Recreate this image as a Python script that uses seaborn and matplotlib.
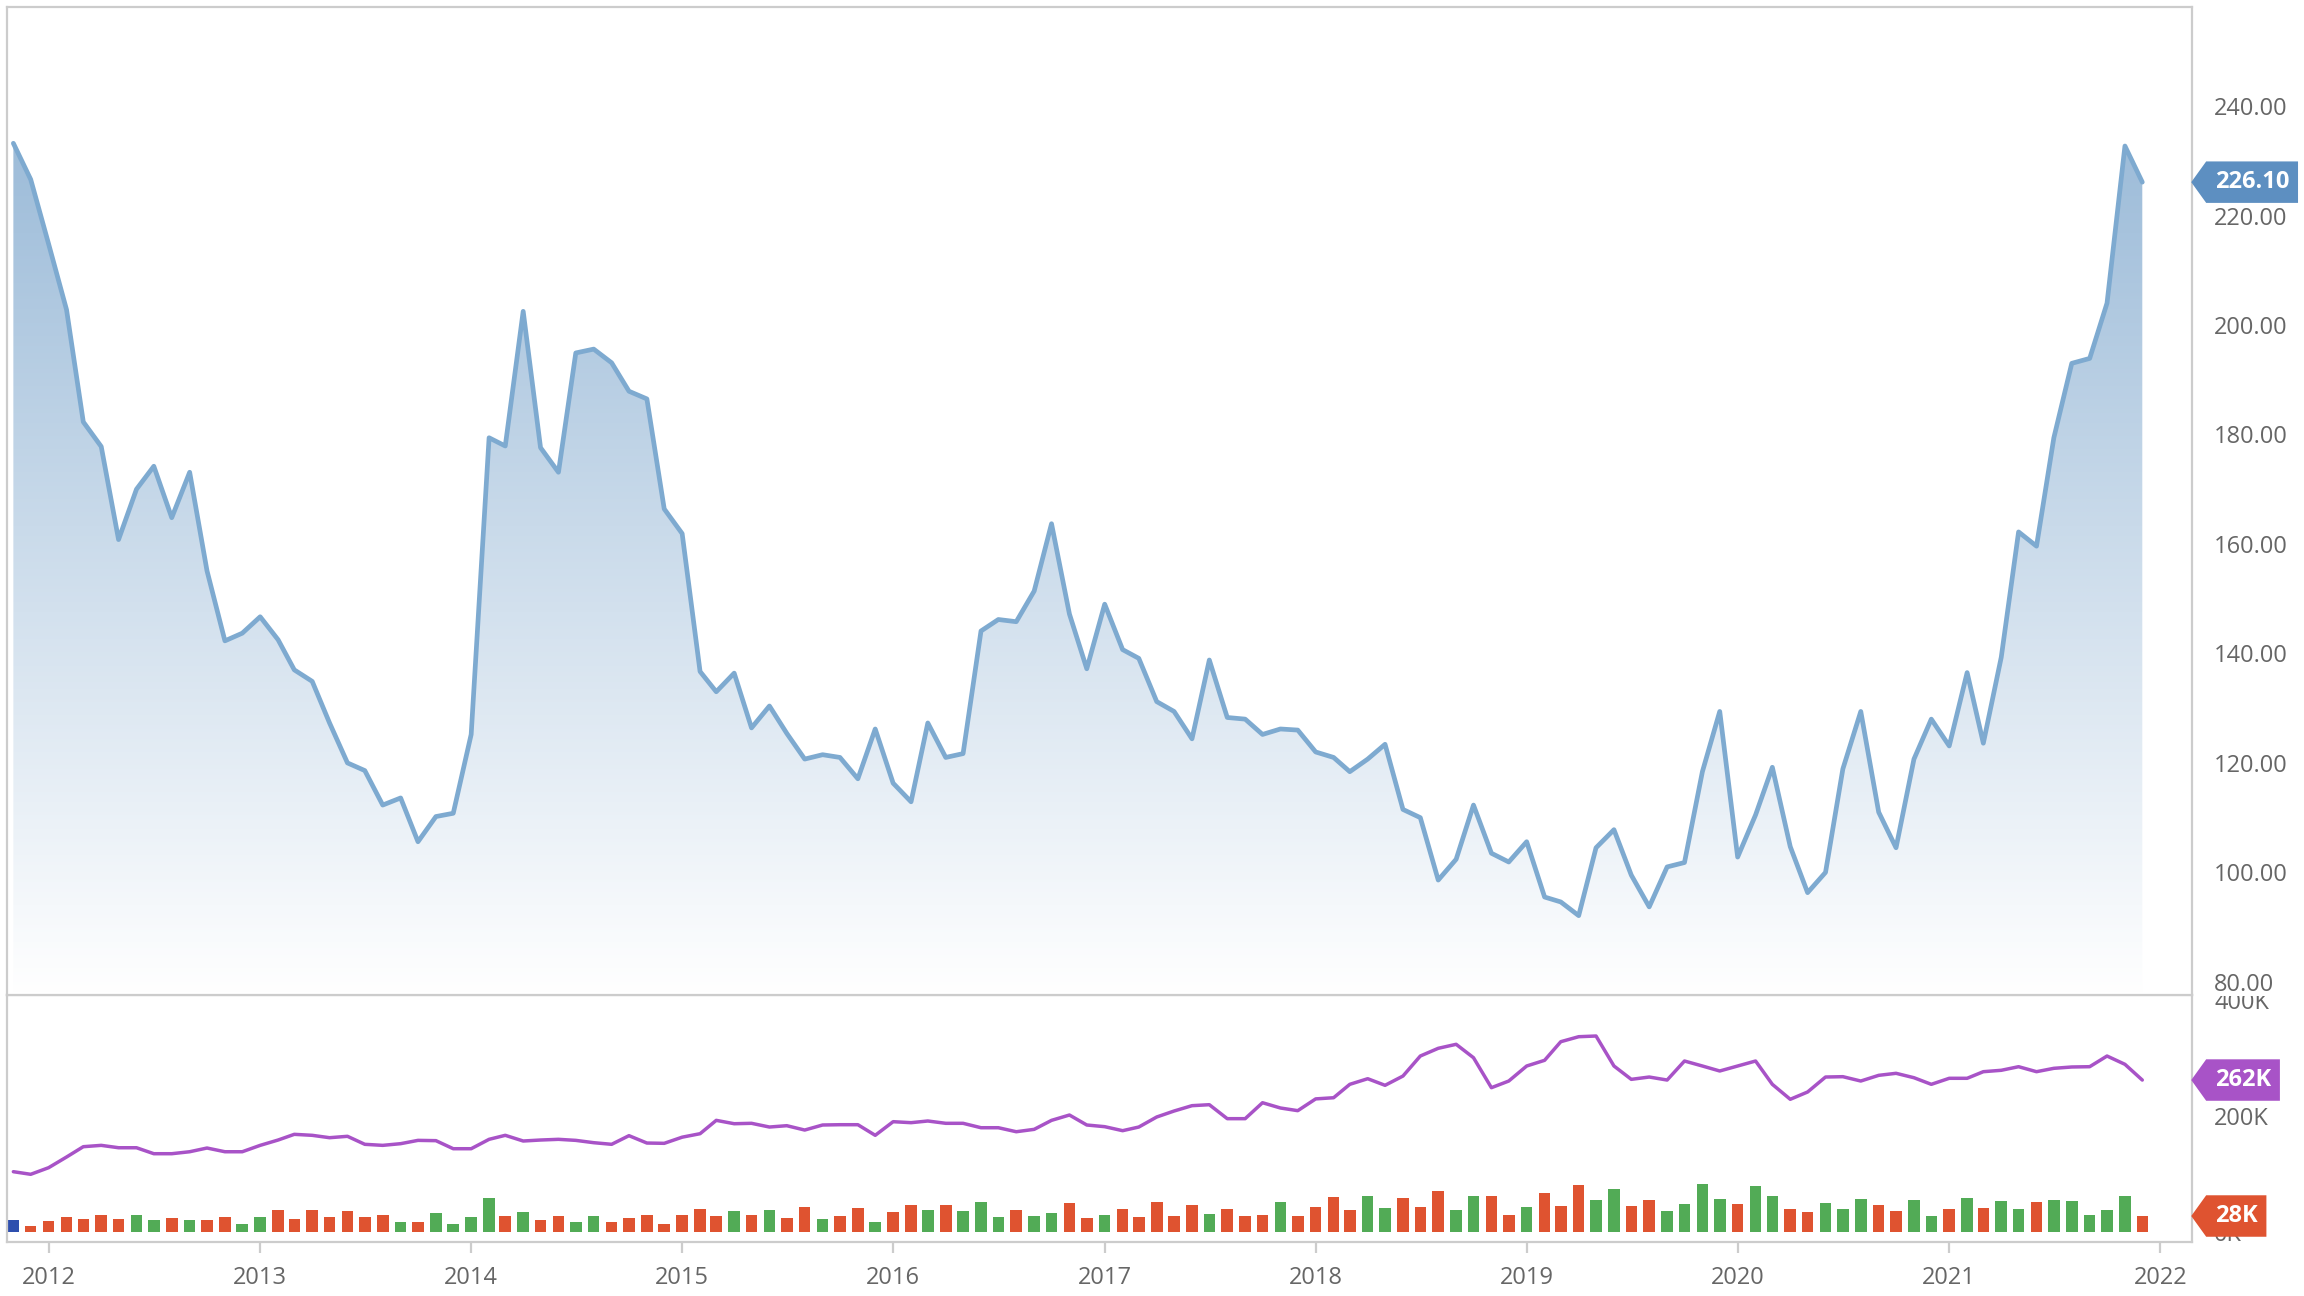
import numpy as np
import pandas as pd
import matplotlib
matplotlib.use("Agg")
import matplotlib.pyplot as plt
import matplotlib.dates as mdates
from matplotlib.path import Path
from matplotlib.patches import Rectangle
from matplotlib.colors import LinearSegmentedColormap
import seaborn as sns

# monthly data, Nov 2011 - Dec 2021
months = pd.date_range("2011-11-01", periods=122, freq="MS")

price = [
    233.2, 226.6, 214.8, 202.8, 182.3, 177.8, 160.8, 170.0, 174.2, 164.8,
    173.1, 155.1, 142.3, 143.7, 146.7, 142.5, 137.0, 134.9, 127.3, 120.0,
    118.6, 112.3, 113.6, 105.6, 110.2, 110.8, 125.2, 179.4, 177.9, 202.5,
    177.6, 173.1, 194.9, 195.6, 193.1, 187.9, 186.5, 166.4, 161.9, 136.7,
    133.0, 136.4, 126.4, 130.4, 125.4, 120.7, 121.5, 121.0, 117.1, 126.2,
    116.3, 112.9, 127.3, 121.0, 121.7, 144.1, 146.2, 145.8, 151.4, 163.7,
    147.2, 137.2, 149.0, 140.7, 139.1, 131.2, 129.4, 124.4, 138.8, 128.3,
    128.0, 125.2, 126.2, 126.0, 122.0, 121.0, 118.4, 120.7, 123.4, 111.5,
    110.0, 98.6, 102.4, 112.3, 103.5, 101.9, 105.6, 95.5, 94.6, 92.1,
    104.5, 107.8, 99.5, 93.7, 101.0, 101.8, 118.4, 129.4, 102.8, 110.5,
    119.2, 104.7, 96.3, 100.0, 118.9, 129.4, 111.0, 104.5, 120.7, 128.0,
    123.1, 136.5, 123.6, 139.3, 162.2, 159.6, 179.4, 193.0, 193.9, 204.0,
    232.7, 226.1,
]

# purple line, thousands
open_int = [
    104.0, 99.5, 110.9, 129.3, 147.1, 149.4, 145.3, 145.3, 135.0, 135.0,
    138.4, 144.8, 138.4, 138.4, 149.4, 158.6, 168.4, 166.7, 162.6, 165.0,
    151.2, 149.4, 152.3, 158.0, 157.5, 143.6, 143.6, 159.8, 166.7, 156.9,
    158.6, 159.8, 158.0, 154.0, 151.2, 166.1, 153.4, 152.9, 163.5, 169.5,
    192.5, 186.7, 187.4, 181.0, 183.3, 175.8, 184.5, 185.0, 185.0, 166.7,
    190.2, 188.5, 191.4, 187.4, 187.4, 179.8, 179.8, 172.9, 177.0, 192.5,
    201.7, 184.5, 181.6, 174.7, 181.0, 198.3, 208.6, 217.8, 219.5, 195.4,
    195.4, 222.9, 213.8, 209.2, 229.5, 231.5, 254.6, 264.3, 252.9, 268.9,
    303.4, 316.7, 323.6, 300.5, 248.8, 260.3, 286.2, 296.0, 328.1, 336.7,
    337.9, 286.2, 263.2, 267.2, 262.0, 294.8, 286.2, 277.6, 286.2, 294.8,
    254.6, 228.8, 241.4, 267.2, 267.8, 260.3, 270.1, 273.6, 266.0, 254.6,
    265.0, 265.0, 276.4, 278.8, 285.0, 276.4, 282.2, 284.5, 285.0, 303.4,
    289.1, 262.0,
]

# volume bars, thousands
volume = [
    20.7, 10.3, 18.4, 26.4, 23.0, 28.7, 21.8, 28.7, 21.3, 23.6,
    20.1, 21.3, 26.4, 13.2, 25.3, 37.9, 22.4, 38.5, 26.4, 35.6,
    25.3, 29.9, 16.7, 17.8, 33.3, 14.4, 25.9, 58.0, 27.0, 33.9,
    21.3, 27.0, 17.2, 27.6, 17.8, 24.1, 29.9, 14.4, 28.5, 40.2,
    27.0, 35.6, 28.7, 37.4, 23.6, 43.7, 22.4, 27.6, 41.4, 16.7,
    33.9, 47.1, 37.9, 46.0, 35.6, 52.3, 26.4, 37.4, 27.6, 32.2,
    50.0, 23.6, 29.9, 40.2, 25.3, 51.1, 28.2, 46.5, 30.5, 40.2,
    27.6, 29.9, 51.1, 27.3, 42.5, 59.8, 37.4, 62.1, 40.8, 59.2,
    43.1, 71.3, 37.4, 62.6, 61.5, 29.9, 43.7, 67.2, 44.8, 81.0,
    54.6, 74.1, 44.8, 55.2, 35.6, 47.7, 82.2, 56.3, 48.8, 78.7,
    61.5, 39.7, 34.5, 50.6, 40.2, 57.5, 46.5, 36.2, 54.6, 28.2,
    40.2, 58.6, 40.8, 52.9, 39.7, 52.3, 54.6, 52.9, 28.7, 38.5,
    62.1, 27.6,
]

price_ticks = [80, 100, 120, 140, 160, 180, 200, 220, 240]
vol_ticks = [0, 200, 400]

LINE_BLUE = "#7eaad0"
TAG_BLUE = "#5d8fc1"
PURPLE = "#a853c7"
RED = "#df5330"
GREEN = "#52ab56"
FIRST = "#2e4fae"
GREY = "#cccccc"
TXT = "#666666"

sns.set_theme(style="white")
plt.rcParams["font.family"] = ["Open Sans", "DejaVu Sans"]

W, H = 2304, 1296
fig = plt.figure(figsize=(W / 100, H / 100), dpi=100)
left, right = 7 / W, 2192 / W
ax1 = fig.add_axes([left, 1 - 995 / H, right - left, (995 - 7) / H])
ax2 = fig.add_axes([left, 1 - 1242 / H, right - left, (1242 - 995) / H])
ax1.set_zorder(2)

xlim = mdates.date2num([pd.Timestamp("2011-10-21"), pd.Timestamp("2022-02-25")])
ylim1 = (77.6, 258.1)
ylim2 = (-17.2, 408.6)

# price area with vertical gradient
fill = ax1.fill_between(months, price, ylim1[0], color="none", lw=0)
cmap = LinearSegmentedColormap.from_list("fade", ["#ffffff", "#9dbcd9"])
grad = np.linspace(0, 1, 256).reshape(-1, 1)
img = ax1.imshow(grad, extent=[xlim[0], xlim[1], ylim1[0], max(price)],
                 origin="lower", aspect="auto", cmap=cmap, zorder=1)
img.set_clip_path(fill.get_paths()[0], transform=ax1.transData)
sns.lineplot(x=months, y=price, ax=ax1, color=LINE_BLUE, lw=3.4, zorder=3)

# lower panel: purple line and volume bars
up = np.diff(price) > 0
bar_colors = [FIRST] + [GREEN if u else RED for u in up]
ax2.bar(months, volume, width=20, color=bar_colors, lw=0, zorder=2)
sns.lineplot(x=months, y=open_int, ax=ax2, color=PURPLE, lw=2.5, zorder=3)

for ax, lim in ((ax1, ylim1), (ax2, ylim2)):
    ax.set_xlim(xlim)
    ax.set_ylim(lim)
    ax.set_xlabel("")
    ax.set_ylabel("")
    ax.yaxis.tick_right()
    ax.tick_params(axis="y", length=0, pad=16, labelsize=17, labelcolor=TXT)
    for s in ax.spines.values():
        s.set_color(GREY)
        s.set_linewidth(1.6)

ax1.set_yticks(price_ticks)
ax1.set_yticklabels([f"{v:.2f}" for v in price_ticks])
ax1.tick_params(axis="x", bottom=False, labelbottom=False)

ax2.set_yticks(vol_ticks)
ax2.set_yticklabels([f"{v}K" for v in vol_ticks])
ax2.xaxis.set_major_locator(mdates.YearLocator())
ax2.xaxis.set_major_formatter(mdates.DateFormatter("%Y"))
ax2.tick_params(axis="x", bottom=True, length=8, width=1.6, color=GREY,
                pad=9, labelsize=17, labelcolor=TXT)

# the top of the "400K" label is hidden under the price panel's edge
fig.add_artist(Rectangle((2195 / W, 1 - 996 / H), (W - 2195) / W, 24 / H,
                         transform=fig.transFigure, fc="white", ec="none",
                         zorder=1))


def tag_shape(x0, y0, width, height, mutation_size):
    pad = 0.37 * mutation_size
    x0, y0 = x0 - pad, y0 - pad
    w, h = width + 2 * pad, height + 2 * pad
    tip = 0.36 * h
    verts = [(x0 - tip, y0 + h / 2), (x0, y0), (x0 + w, y0),
             (x0 + w, y0 + h), (x0, y0 + h), (x0 - tip, y0 + h / 2)]
    return Path(verts, closed=True)


def add_tag(ax, value, text, color):
    ax.annotate(text, xy=(1, value), xycoords=("axes fraction", "data"),
                xytext=(16.5, 0), textcoords="offset points",
                ha="left", va="center", color="white", fontsize=17,
                fontweight="bold", annotation_clip=False, zorder=10,
                bbox=dict(boxstyle=tag_shape, fc=color, ec="none"))


add_tag(ax1, price[-1], f"{price[-1]:.2f}", TAG_BLUE)
add_tag(ax2, open_int[-1], f"{open_int[-1]:.0f}K", PURPLE)
add_tag(ax2, volume[-1], f"{volume[-1]:.0f}K", bar_colors[-1])

fig.savefig("out.png", dpi=100)
